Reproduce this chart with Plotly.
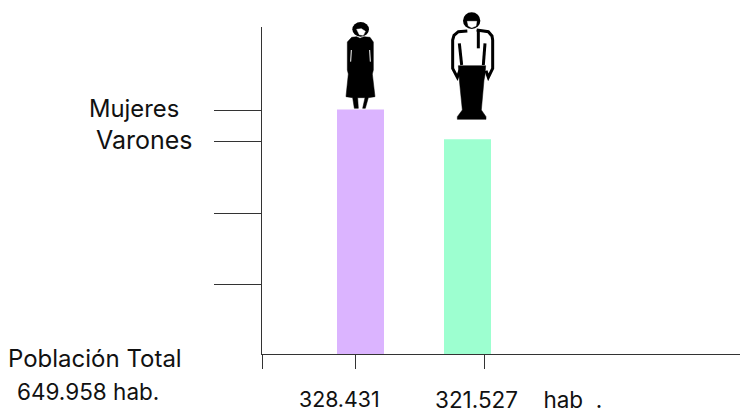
import plotly.graph_objects as go

# ---- data ----
categories = ["Mujeres", "Varones"]
values = [328431, 321527]
bar_colors = ["#dbb4ff", "#9dffd0"]
bar_positions = [98.5, 205.5]
tick_positions = [0, 93, 222]
grid_values = [328200, 321100, 304400, 288100]
axis_floor = 272100
axis_top = 347400
x_extent = 478

W, H = 740, 413
L, T, B = 262, 27, 59
pw, ph = W - L, H - T - B
FONT = "Inter"
INK = "#333333"


def px(x):
    return (x - L) / pw


def py(y):
    return (H - B - y) / ph


def zoom_pt(p):
    return px(320 + p[0] / 3), py(p[1] / 3)


def path(points, close=True):
    out = []
    for i, p in enumerate(points):
        x, y = zoom_pt(p)
        out.append(f"{'M' if i == 0 else 'L'} {x:.5f},{y:.5f}")
    return " ".join(out) + (" Z" if close else "")


def poly(points, fill="black"):
    return dict(type="path", xref="paper", yref="paper", path=path(points),
                fillcolor=fill, line=dict(color=fill, width=0.5), layer="above")


def stroke(points, width=3, color="black"):
    return dict(type="path", xref="paper", yref="paper", path=path(points, False),
                line=dict(color=color, width=width), layer="above")


def oval(cx, cy, rx, ry, fill="black"):
    x0, y0 = zoom_pt((cx - rx, cy - ry))
    x1, y1 = zoom_pt((cx + rx, cy + ry))
    return dict(type="circle", xref="paper", yref="paper", x0=x0, x1=x1, y0=y0, y1=y1,
                fillcolor=fill, line=dict(width=0), layer="above")


shapes = [
    # woman
    oval(122, 88, 25, 22),
    poly([(110, 88), (124, 86), (136, 94), (130, 106), (118, 104)], "white"),
    poly([(95, 112), (110, 110), (120, 115), (132, 110), (150, 112), (160, 126), (160, 210),
          (157, 222), (165, 290), (145, 293), (136, 325), (128, 325), (135, 293), (113, 293),
          (115, 325), (103, 325), (98, 293), (78, 290), (85, 222), (82, 210), (82, 126)]),
    stroke([(94, 150), (92, 185)], 1, "white"),
    stroke([(149, 150), (151, 185)], 1, "white"),
    # man
    oval(455, 62, 26, 25),
    poly([(442, 64), (470, 64), (468, 78), (455, 83), (445, 78)], "white"),
    stroke([(442, 93), (415, 95), (402, 106), (398, 120), (398, 205), (412, 232), (420, 210)]),
    stroke([(470, 90), (505, 95), (516, 108), (518, 120), (518, 205), (505, 232), (498, 212)]),
    stroke([(418, 130), (425, 195)]),
    stroke([(495, 130), (490, 195)]),
    stroke([(475, 90), (475, 145)]),
    poly([(415, 197), (497, 197), (495, 225), (492, 240), (484, 330), (498, 350), (498, 358),
          (412, 358), (412, 350), (427, 330), (418, 240)]),
]


def label(text, x, y, size=20, anchor="left"):
    return dict(text=text, xref="paper", yref="paper", x=px(x), y=py(y), xanchor=anchor,
                yanchor="middle", showarrow=False, font=dict(family=FONT, size=size, color="#111111"))


annotations = [
    label(categories[0], 87, 109, 23.8),
    label(categories[1], 94, 140, 25),
    label("Población Total", 6, 358, 24),
    label("649.958 hab.", 15, 391, 22.5),
    label("328.431", 297, 399, 21.3),
    label("321.527\u00a0\u00a0\u00a0\u00a0hab\u00a0\u00a0.", 433, 399, 22.5),
]

fig = go.Figure()
for cat, val, col, pos in zip(categories, values, bar_colors, bar_positions):
    fig.add_trace(go.Bar(name=cat, x=[pos], y=[val - axis_floor], base=axis_floor,
                         width=47, marker=dict(color=col, line=dict(width=0))))

fig.update_layout(
    width=W, height=H, autosize=False, showlegend=False,
    plot_bgcolor="white", paper_bgcolor="white",
    margin=dict(l=L, r=0, t=T, b=B, pad=0),
    shapes=shapes, annotations=annotations,
    xaxis=dict(range=[0, x_extent], tickmode="array", tickvals=tick_positions, ticktext=["", "", ""],
               ticks="outside", ticklen=14, tickcolor=INK, tickwidth=1, showgrid=False,
               showline=True, linecolor=INK, linewidth=1, zeroline=False),
    yaxis=dict(range=[axis_floor, axis_top], tickmode="array", tickvals=grid_values,
               ticktext=["", "", "", ""], ticks="outside", ticklen=47, tickcolor=INK, tickwidth=1,
               showgrid=False, showline=True, linecolor=INK, linewidth=1, zeroline=False),
)

fig.write_html("out.html", config={"displayModeBar": False},
               post_script="document.body.style.margin='0';document.body.style.overflow='hidden';")
